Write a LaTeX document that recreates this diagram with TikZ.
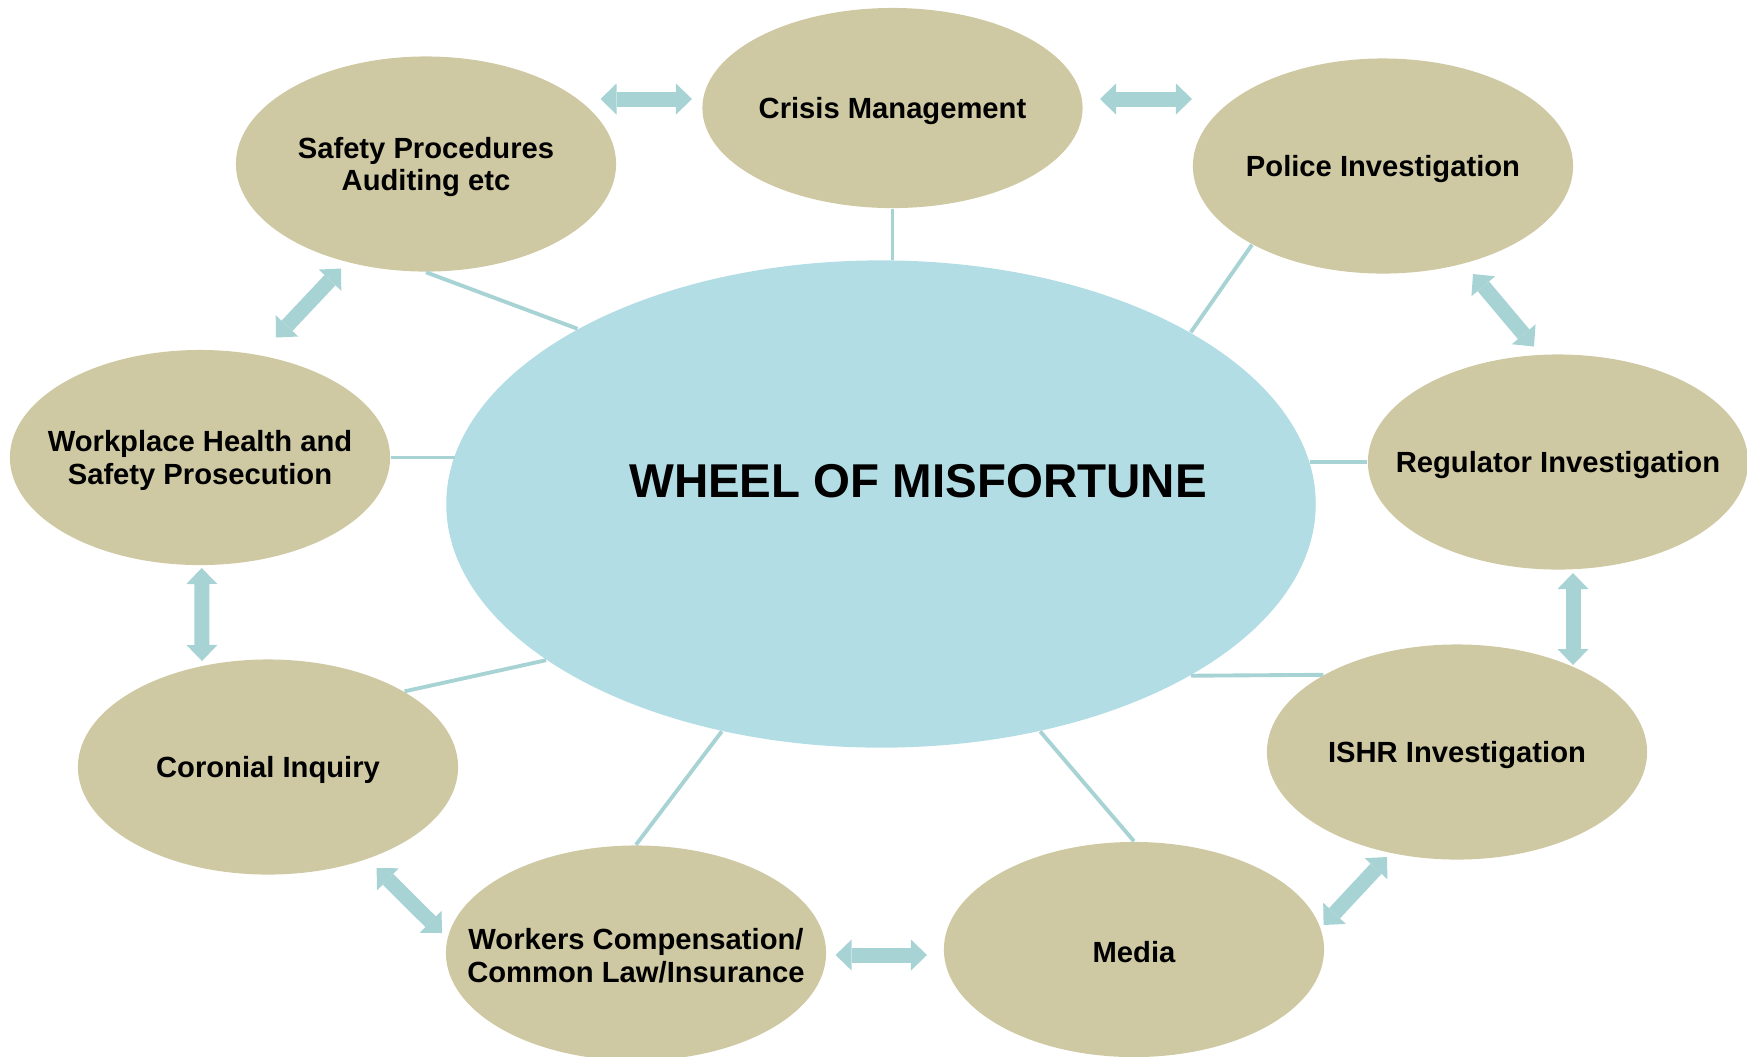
\documentclass[tikz,border=0pt]{standalone}
\usepackage{fontspec}
\setmainfont{Liberation Sans}
\usepackage{xcolor}
\usepackage{tikz}
\usetikzlibrary{shapes.geometric,arrows.meta,calc}

\definecolor{tanc}{RGB}{207,201,163}
\definecolor{hubc}{RGB}{178,221,228}
\definecolor{arrowc}{RGB}{168,211,212}
\definecolor{linkc}{RGB}{168,211,212}

\begin{document}
\begin{tikzpicture}[x=0.01cm, y=-0.01cm,
    stage/.style={ellipse, fill=tanc, inner sep=0pt, minimum width=3.8cm, minimum height=2.15cm},
    stagetext/.style={align=center, yshift=-0.8pt, font=\fontsize{8.3}{9.2}\selectfont\bfseries},
    link/.style={draw=linkc, line width=1.1pt},
    dblarrow/.style={draw=arrowc, line width=1.5mm, >={Triangle[length=1.6mm,width=3.1mm,line width=0pt]}, <->}]

  \useasboundingbox (0,0) rectangle (1747,1056);

  % Central wheel
  \node[ellipse, fill=hubc, inner sep=0pt, minimum width=8.69cm, minimum height=4.87cm] (hub) at (881,504) {};
  \node[font=\fontsize{13.5}{16}\selectfont\bfseries] (title) at ($(hub)+(37,-23)$) {WHEEL OF MISFORTUNE};

  % Stages round the wheel
  \node[stage, minimum height=2cm, label={[stagetext]center:Crisis Management}] (crisis) at (892.5,108) {};
  \node[stage, label={[stagetext]center:{Safety Procedures\\Auditing etc}}] (safety) at (426,164) {};
  \node[stage, label={[stagetext]center:Police Investigation}] (police) at (1383,166) {};
  \node[stage, label={[stagetext]center:{Workplace Health and\\Safety Prosecution}}] (workplace) at (200,457.5) {};
  \node[stage, label={[stagetext]center:Regulator Investigation}] (regulator) at (1558,462) {};
  \node[stage, label={[stagetext]center:Coronial Inquiry}] (coronial) at (268,767) {};
  \node[stage, label={[stagetext]center:ISHR Investigation}] (ishr) at (1457,752) {};
  \node[stage, label={[stagetext]center:{Workers Compensation/\\Common Law/Insurance}}] (workers) at (636,953) {};
  \node[stage, label={[stagetext]center:Media}] (media) at (1134,949.5) {};

  % Spokes
  \draw[link] (crisis.south) -- (crisis.south |- hub.north);
  \draw[link] (safety.south) -- (hub.150.8);
  \draw[link] (police.211) -- (hub.29.6);
  \draw[link] (workplace.east) -- ($(workplace.east -| hub.west)+(9,0)$);
  \draw[link] (regulator.west) -- ($(regulator.west -| hub.east)+(-6,0)$);
  \draw[link] (coronial.29.4) -- (hub.205.4);
  \draw[link] (ishr.150.5) -- (hub.331.2);
  \draw[link] (workers.north) -- (hub.235.6);
  \draw[link] (media.north) -- (hub.305.6);

  % Arrows between neighbours
  \draw[dblarrow] ($(safety)+(174.5,-65)$) -- ($(crisis)+(-200.5,-9)$);
  \draw[dblarrow] ($(crisis)+(207.5,-9)$) -- ($(police)+(-191,-67)$);
  \draw[dblarrow] ($(safety)+(-85,104.5)$) -- ($(workplace)+(76,-120)$);
  \draw[dblarrow] ($(police)+(90,108)$) -- ($(regulator)+(-24,-115.5)$);
  \draw[dblarrow] ($(workplace)+(1.7,110.5)$) -- ($(coronial)+(-66,-106)$);
  \draw[dblarrow] ($(regulator)+(15,111)$) -- ($(ishr)+(116,-87)$);
  \draw[dblarrow] ($(coronial)+(108.6,101)$) -- ($(workers)+(-194,-20)$);
  \draw[dblarrow] ($(workers)+(199.6,2)$) -- ($(media)+(-207,5.5)$);
  \draw[dblarrow] ($(ishr)+(-70,105)$) -- ($(media)+(189.6,-24.5)$);
\end{tikzpicture}
\end{document}
